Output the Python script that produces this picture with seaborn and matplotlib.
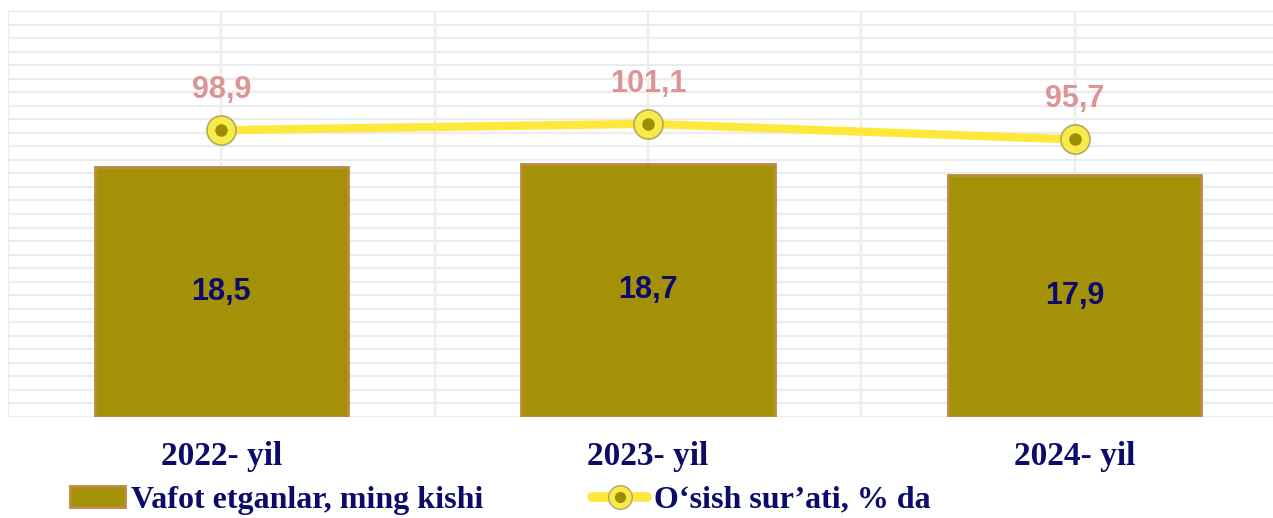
import numpy as np
import pandas as pd
import matplotlib
matplotlib.use("Agg")
import matplotlib.pyplot as plt
from matplotlib.lines import Line2D
from matplotlib.patches import Patch
from matplotlib.legend_handler import HandlerTuple
import seaborn as sns

categories = ["2022- yil", "2023- yil", "2024- yil"]
deaths = [18.5, 18.7, 17.9]          # Vafot etganlar, ming kishi
growth = [98.9, 101.1, 95.7]          # O‘sish sur’ati, % da
bar_name = "Vafot etganlar, ming kishi"
line_name = "O‘sish sur’ati, % da"

sns.set_theme(style="white")
plt.rcParams['font.family'] = ['Liberation Sans', 'DejaVu Sans']

NAVY = "#0B0B6A"
BAR = "#A59107"
BAR_EDGE = "#BC8A3E"
LINE = "#FFE83C"
PINK = "#DC9494"
GRID = "#ECECEC"

fig = plt.figure(figsize=(12.73, 5.18), dpi=100)
ax = fig.add_axes([8/1273, 101/518, 1280/1273, 406/518])

df = pd.DataFrame({"cat": categories, "val": deaths})
sns.barplot(data=df, x="cat", y="val", ax=ax, color=BAR, width=0.594,
            edgecolor=BAR_EDGE, linewidth=2.0, saturation=1)
ax.set_xlim(-0.5, 2.5)
ax.set_ylim(0, 30)
ax.set_yticks(np.arange(0, 31, 1))
ax.set_xticks(np.arange(-0.5, 3.0, 0.5), minor=True)
ax.grid(True, axis="y", which="major", color=GRID, linewidth=1.6, zorder=0)
ax.grid(True, axis="x", which="both", color=GRID, linewidth=1.6, zorder=0)
ax.set_axisbelow(True)
ax.set_xlabel("")
ax.set_ylabel("")
for s in ax.spines.values():
    s.set_visible(False)

for i, v in enumerate(deaths):
    ax.text(i, v / 2, f"{v:.1f}".replace(".", ","), ha="center", va="center",
            fontsize=22, fontweight="bold", color=NAVY)

ax2 = ax.twinx()
ax2.set_ylim(0, 140)
xs = np.arange(len(categories))
ax2.plot(xs, growth, color=LINE, linewidth=6, solid_capstyle="round", zorder=3)
ax2.plot(xs, growth, linestyle="none", marker="o", markersize=21,
         markerfacecolor="#F6EB4A", markeredgecolor="#B5A95A", markeredgewidth=1.2, zorder=4)
ax2.plot(xs, growth, linestyle="none", marker="o", markersize=8,
         markerfacecolor="#9C8C06", markeredgecolor="#9C8C06", zorder=5)
for i, v in enumerate(growth):
    ax2.annotate(f"{v:.1f}".replace(".", ","), (i, v), xytext=(0, 29),
                 textcoords="offset points", ha="center", va="center",
                 fontsize=22, fontweight="bold", color=PINK)
ax2.axis("off")

ax.tick_params(axis="y", which="both", left=False, right=False, length=0,
               labelleft=False, labelright=False)
ax.tick_params(axis="x", which="both", bottom=False, length=0, pad=17)
for lbl in ax.get_xticklabels():
    lbl.set_fontfamily("Liberation Serif")
    lbl.set_fontweight("bold")
    lbl.set_fontsize(24)
    lbl.set_color(NAVY)

h_line = (
    Line2D([0], [0], color=LINE, linewidth=7, solid_capstyle="round",
           marker="o", markersize=17,
           markerfacecolor="#F6EB4A", markeredgecolor="#B5A95A"),
    Line2D([0], [0], linestyle="none", marker="o", markersize=7,
           markerfacecolor="#9C8C06", markeredgecolor="#9C8C06"),
)
handles = [Patch(facecolor=BAR, edgecolor=BAR_EDGE, linewidth=2), h_line]
leg = fig.legend(handles, [bar_name, line_name], loc="lower left",
                 bbox_to_anchor=(70/1273, 0.006), ncol=2, frameon=False,
                 prop={"family": "Liberation Serif", "weight": "bold", "size": 23},
                 handlelength=1.72, handleheight=0.62, handletextpad=0.2,
                 columnspacing=3.4, borderpad=0.0, borderaxespad=0.0,
                 handler_map={tuple: HandlerTuple(ndivide=1)})
for t in leg.get_texts():
    t.set_color(NAVY)

fig.savefig("out.png", dpi=100)
